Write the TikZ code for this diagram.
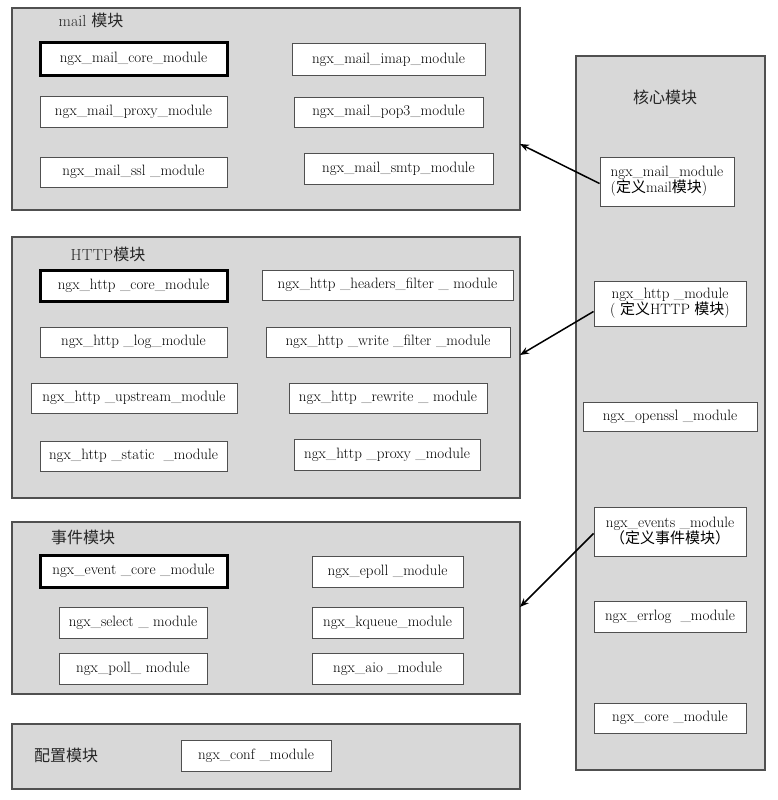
\documentclass[tikz,border=0pt]{standalone}
\usepackage{fontspec}
\newfontfamily\cjk{Noto Sans CJK SC}
\usetikzlibrary{arrows.meta}
\definecolor{panelgray}{RGB}{216,216,216}
\definecolor{edgegray}{RGB}{80,80,80}
\newcommand{\zh}[1]{{\cjk #1}}
\begin{document}
\begin{tikzpicture}[x=1pt,y=-1pt,
  panel/.style={draw=edgegray,line width=1.2pt,fill=panelgray,rectangle,inner sep=0pt},
  modbox/.style={draw=edgegray,line width=1pt,fill=white,rectangle,inner sep=0pt,
    font=\fontsize{15}{17}\selectfont},
  corebox/.style={modbox,draw=black,line width=3pt},
  twoline/.style={modbox,align=center,font=\fontsize{15}{16}\selectfont},
  paneltitle/.style={inner sep=0pt,font=\fontsize{16}{18}\selectfont,text=black!85},
  arr/.style={draw=black,line width=1.5pt,-{Stealth[length=9pt,width=7pt]}}]
\useasboundingbox (0,0) rectangle (777,800);
\fill[white] (0,0) rectangle (777,800);
% panels
\node[panel,minimum width=508pt,minimum height=202pt] (mailP) at (266,109) {};
\node[panel,minimum width=508pt,minimum height=261pt] (httpP) at (266,367.5) {};
\node[panel,minimum width=508pt,minimum height=172pt] (eventP) at (266,608) {};
\node[panel,minimum width=508pt,minimum height=65pt] (confP) at (266,756.5) {};
\node[panel,minimum width=189pt,minimum height=714pt] (coreP) at (670.5,413) {};
% titles
\node[paneltitle] (tmail) at (91,20) {mail \zh{模块}};
\node[paneltitle] (thttp) at (108,254) {HTTP\zh{模块}};
\node[paneltitle] (tevent) at (83,537) {\zh{事件模块}};
\node[paneltitle] (tconf) at (66,755) {\zh{配置模块}};
\node[paneltitle] (tcore) at (665,97) {\zh{核心模块}};
% mail modules
\node[corebox,minimum width=187pt,minimum height=32pt] (mcore) at (133.5,59) {ngx\_mail\_core\_module};
\node[modbox,minimum width=193pt,minimum height=31pt] (mimap) at (388.5,59.5) {ngx\_mail\_imap\_module};
\node[modbox,minimum width=187pt,minimum height=31pt] (mproxy) at (133.5,111.5) {ngx\_mail\_proxy\_module};
\node[modbox,minimum width=189pt,minimum height=30pt] (mpop) at (388.5,112) {ngx\_mail\_pop3\_module};
\node[modbox,minimum width=187pt,minimum height=30pt] (mssl) at (133.5,172) {ngx\_mail\_ssl \_module};
\node[modbox,minimum width=189pt,minimum height=31pt] (msmtp) at (398.5,168.5) {ngx\_mail\_smtp\_module};
% http modules
\node[corebox,minimum width=187pt,minimum height=31pt] (hcore) at (133.5,285.5) {ngx\_http \_core\_module};
\node[modbox,minimum width=251pt,minimum height=30pt] (hhead) at (387.5,285) {ngx\_http \_headers\_filter \_ module};
\node[modbox,minimum width=187pt,minimum height=30pt] (hlog) at (133.5,342) {ngx\_http \_log\_module};
\node[modbox,minimum width=244pt,minimum height=30pt] (hwrite) at (388,342) {ngx\_http \_write \_filter \_module};
\node[modbox,minimum width=206pt,minimum height=30pt] (hup) at (134,398) {ngx\_http \_upstream\_module};
\node[modbox,minimum width=198pt,minimum height=30pt] (hrew) at (388,398) {ngx\_http \_rewrite \_ module};
\node[modbox,minimum width=187pt,minimum height=30pt] (hstat) at (133.5,456) {ngx\_http \_static \ \_module};
\node[modbox,minimum width=186pt,minimum height=31pt] (hprox) at (387,454.5) {ngx\_http \_proxy \_module};
% event modules
\node[corebox,minimum width=187pt,minimum height=32pt] (ecore) at (133.5,571) {ngx\_event \_core \_module};
\node[modbox,minimum width=151pt,minimum height=31pt] (eepoll) at (387.5,571.5) {ngx\_epoll \_module};
\node[modbox,minimum width=148pt,minimum height=31pt] (esel) at (133,622.5) {ngx\_select \_ module};
\node[modbox,minimum width=151pt,minimum height=31pt] (ekq) at (387.5,622.5) {ngx\_kqueue\_module};
\node[modbox,minimum width=148pt,minimum height=31pt] (epoll) at (133,668.5) {ngx\_poll\_ module};
\node[modbox,minimum width=151pt,minimum height=31pt] (eaio) at (387.5,668.5) {ngx\_aio \_module};
% conf module
\node[modbox,minimum width=150pt,minimum height=31pt] (cconf) at (256,755.5) {ngx\_conf \_module};
% core modules
\node[twoline,align=left,minimum width=134pt,minimum height=49pt] (kmail) at (667,181.5) {ngx\_mail\_module\\(\zh{定义}mail\zh{模块})};
\node[twoline,minimum width=152pt,minimum height=45pt] (khttp) at (670,303.5) {ngx\_http \_module\\( \zh{定义}HTTP \zh{模块})};
\node[modbox,minimum width=174pt,minimum height=29pt] (kssl) at (670,416.5) {ngx\_openssl \_module};
\node[twoline,minimum width=152pt,minimum height=49pt] (kev) at (670,531.5) {ngx\_events \_module\\\zh{（定义事件模块）}};
\node[modbox,minimum width=152pt,minimum height=31pt] (kerr) at (670,616.5) {ngx\_errlog \ \_module};
\node[modbox,minimum width=152pt,minimum height=30pt] (kcore) at (670,718) {ngx\_core \_module};
% arrows
\coordinate (tipmail) at (520,144);
\coordinate (tiphttp) at (520,355);
\coordinate (tipev) at (520,607);
\draw[arr] ([yshift=-2pt]kmail.west) -- (tipmail);
\draw[arr] ([yshift=-8pt]khttp.west) -- (tiphttp);
\draw[arr] ([yshift=-2pt]kev.west) -- (tipev);
\end{tikzpicture}
\end{document}
